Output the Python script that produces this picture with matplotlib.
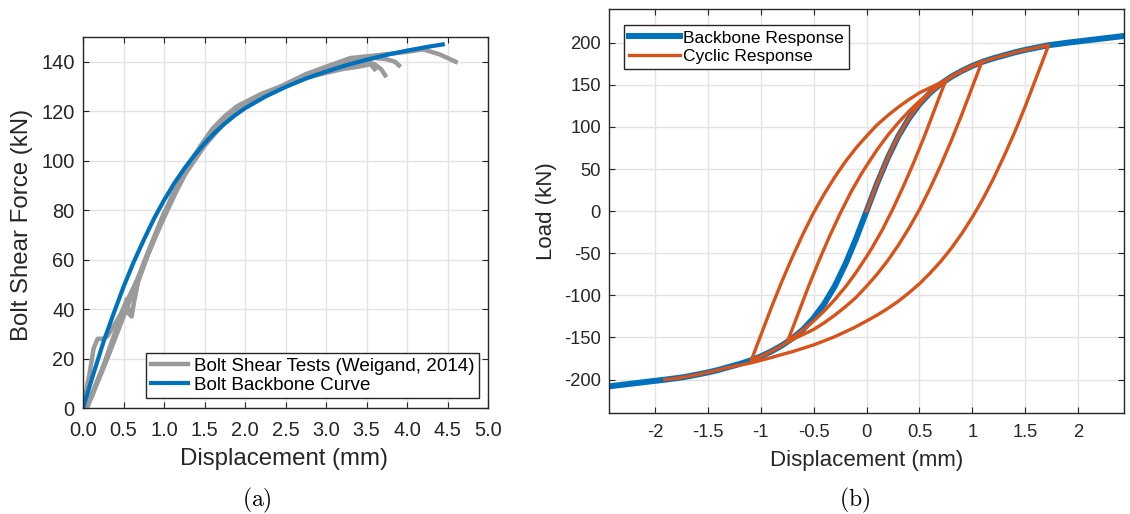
import numpy as np
import matplotlib
matplotlib.use("Agg")
import matplotlib.pyplot as plt

plt.rcParams['font.family'] = ['Liberation Sans', 'DejaVu Sans']
plt.rcParams['axes.unicode_minus'] = False
plt.rcParams['mathtext.fontset'] = 'cm'

BLUE = '#0072BD'
ORANGE = '#D95319'
GRAY = '#9a9a9a'
AXCOL = '#262626'

# ---- panel (a): bolt shear tests and backbone curve ----
test_a_x = [0, 0.05, 0.3, 0.6, 0.8, 1.0, 1.25, 1.5, 1.75, 2.0, 2.25, 2.5, 2.75, 3.0, 3.3, 3.6, 4.0, 4.2, 4.4, 4.6]
test_a_y = [0, 0, 21, 46, 63, 79, 94, 106, 115.5, 122.5, 127, 131, 135, 138, 141.5, 142.5, 144, 145, 143, 140]

test_b_x = [0, 0.08, 0.13, 0.18, 0.24, 0.3, 0.45, 0.7, 0.85, 1.0, 1.15, 1.3, 1.45, 1.6, 1.75, 1.9, 2.2, 2.6, 3.0, 3.3, 3.6, 3.75, 3.85, 3.9]
test_b_y = [0, 14, 24, 28, 28, 29, 37, 54, 66, 77, 87.5, 97, 105, 112, 117, 121, 126.5, 132, 137, 140.5, 141.5, 141, 140, 138.5]

test_c_x = [0, 0.1, 0.25, 0.4, 0.5, 0.54, 0.57, 0.6, 0.63, 0.68, 0.8, 1.0, 1.15, 1.3, 1.45, 1.6, 1.75, 1.9, 2.2, 2.6, 3.0, 3.3, 3.5, 3.6, 3.68, 3.73]
test_c_y = [0, 5, 17, 31, 40, 44, 38, 37, 43, 51, 62, 78, 88.5, 98, 106, 113, 118, 122, 127, 132, 136, 138, 140, 139, 137, 134.5]

test_d_x = [0, 0.1, 0.3, 0.5, 0.8, 1.1, 1.25, 1.4, 1.55, 1.7, 1.85, 2.0, 2.4, 2.8, 3.2, 3.4, 3.55, 3.6]
test_d_y = [0, 4, 20, 37, 62, 86, 95, 103, 110, 116, 120, 123, 129, 134, 137, 138, 139, 137]

bolt_backbone_x = [0, 0.125, 0.25, 0.375, 0.5, 0.625, 0.75, 0.875, 1.0, 1.125, 1.25, 1.375, 1.5, 1.625,
                   1.75, 1.875, 2.0, 2.25, 2.5, 2.75, 3.0, 3.25, 3.5, 3.75, 4.0, 4.25, 4.44]
bolt_backbone_y = [0, 13.5, 26.5, 38, 49, 59, 68, 76.5, 84, 90.8, 96.8, 102.2, 107, 111.3,
                   115, 118.3, 121.2, 125.9, 129.8, 133.2, 136, 138.6, 140.8, 142.8, 144.5, 146, 147]

# ---- panel (b): backbone and cyclic response ----
backbone_x = [-2.5, -2.3, -2.1, -1.9, -1.72, -1.6, -1.5, -1.4, -1.3, -1.2, -1.1, -1.0, -0.9, -0.8, -0.7,
              -0.6, -0.5, -0.4, -0.3, -0.2, -0.1, 0, 0.1, 0.2, 0.3, 0.4, 0.5, 0.6, 0.7, 0.8, 0.9,
              1.0, 1.1, 1.2, 1.3, 1.4, 1.5, 1.6, 1.72, 1.9, 2.1, 2.3, 2.5]
backbone_y = [-209, -206, -203, -200, -197, -194, -191.5, -188.5, -185, -181.5, -177.5, -172.5, -166.5, -159.5, -151,
              -140.5, -127, -110, -89, -63, -33, 0, 33, 63, 89, 110, 127, 140.5, 151, 159.5, 166.5,
              172.5, 177.5, 181.5, 185, 188.5, 191.5, 194, 197, 200, 203, 206, 209]

# virgin loading 0 -> 0.75
seg_a_x = [0, 0.05, 0.1, 0.15, 0.2, 0.25, 0.3, 0.35, 0.4, 0.45, 0.5, 0.55, 0.6, 0.65, 0.7, 0.75]
seg_a_y = [0, 16.5, 33, 48.5, 63, 76.5, 89, 100, 110, 119, 127, 134, 140.5, 146, 151, 155.5]
# unload 0.75 -> -0.75
seg_b_x = [0.75, 0.7, 0.65, 0.6, 0.55, 0.5, 0.45, 0.4, 0.35, 0.3, 0.25, 0.2, 0.15, 0.1, 0.05, 0.0,
           -0.1, -0.2, -0.3, -0.4, -0.5, -0.6, -0.7, -0.75]
seg_b_y = [155.5, 139.5, 123, 106.5, 90, 74.5, 59, 44.5, 30, 16.5, 3, -9.5, -22, -33, -44, -54,
           -73, -90, -105, -118.5, -130.5, -141, -150.5, -155.5]
# reload -0.75 -> 0.75
seg_c_x = [-0.75, -0.7, -0.65, -0.6, -0.55, -0.5, -0.45, -0.4, -0.35, -0.3, -0.25, -0.2, -0.15, -0.1, -0.05, 0.0,
           0.1, 0.2, 0.3, 0.4, 0.5, 0.6, 0.7, 0.75]
seg_c_y = [-155.5, -139.5, -123, -106.5, -90, -74.5, -59, -44.5, -30, -16.5, -3, 9.5, 22, 33, 44, 54,
           73, 90, 105, 118.5, 130.5, 141, 150.5, 155.5]
# backbone 0.75 -> 1.09
seg_d_x = [0.75, 0.8, 0.85, 0.9, 0.95, 1.0, 1.05, 1.09]
seg_d_y = [155.5, 159.5, 163, 166.5, 169.5, 172.5, 175, 177.5]
# unload 1.09 -> -0.75
seg_e_x = [1.09, 1.05, 1.0, 0.95, 0.9, 0.85, 0.8, 0.75, 0.7, 0.65, 0.6, 0.5, 0.4, 0.3, 0.2, 0.1, 0.0,
           -0.1, -0.2, -0.3, -0.4, -0.5, -0.6, -0.7, -0.75]
seg_e_y = [177.5, 164.3, 147.8, 131.3, 114.7, 99.1, 83.5, 68.9, 54.3, 40.7, 27.1, 1.9, -20.3, -40.5, -58.7, -74.9, -89.1,
           -102.5, -113.5, -123.5, -132.5, -140.5, -146.5, -152.5, -155.5]
# backbone -0.75 -> -1.09
seg_f_x = [-0.75, -0.8, -0.85, -0.9, -0.95, -1.0, -1.05, -1.09]
seg_f_y = [-155.5, -159.5, -163, -166.5, -169.5, -172.5, -175, -177.5]
# reload -1.09 -> 0.75
seg_g_x = [-1.09, -1.05, -1.0, -0.95, -0.9, -0.85, -0.8, -0.75, -0.7, -0.65, -0.6, -0.5, -0.4, -0.3, -0.2, -0.1, 0.0,
           0.1, 0.2, 0.3, 0.4, 0.5, 0.6, 0.7, 0.75]
seg_g_y = [-177.5, -164.3, -147.8, -131.3, -114.7, -99.1, -83.5, -68.9, -54.3, -40.7, -27.1, -1.9, 20.3, 40.5, 58.7, 74.9, 89.1,
           102.5, 113.5, 123.5, 132.5, 140.5, 146.5, 152.5, 155.5]
# backbone 0.75 -> 1.72
seg_h_x = [0.75, 0.8, 0.85, 0.9, 0.95, 1.0, 1.05, 1.1, 1.2, 1.3, 1.4, 1.5, 1.6, 1.72]
seg_h_y = [155.5, 159.5, 163, 166.5, 169.5, 172.5, 175, 177.5, 181.5, 185, 188.5, 191.5, 194, 197]
# unload 1.72 -> backbone end
seg_i_x = [1.72, 1.68, 1.64, 1.6, 1.55, 1.5, 1.45, 1.4, 1.3, 1.2, 1.1, 1.0, 0.9, 0.8, 0.7, 0.6, 0.5,
           0.4, 0.3, 0.2, 0.1, 0.0, -0.1, -0.2, -0.3, -0.4, -0.5, -0.6, -0.7, -0.8, -0.9, -1.0,
           -1.1, -1.2, -1.3, -1.4, -1.5, -1.6, -1.72, -1.8, -1.906]
seg_i_y = [197, 183.8, 170.6, 157.4, 141, 124.8, 109.2, 94, 65.6, 39, 14.6, -7, -26.6, -44.2, -59.8, -73.6, -86.2,
           -97, -107, -115.6, -123.4, -130.4, -137.2, -143.2, -149, -154, -158.8, -162.8, -166.8, -170.2, -173.8, -177.2,
           -180.4, -182.8, -185.5, -188.5, -191.5, -194, -197, -198.5, -200]

cyclic_x = np.concatenate([seg_a_x, seg_b_x, seg_c_x, seg_d_x, seg_e_x, seg_f_x, seg_g_x, seg_h_x, seg_i_x])
cyclic_y = np.concatenate([seg_a_y, seg_b_y, seg_c_y, seg_d_y, seg_e_y, seg_f_y, seg_g_y, seg_h_y, seg_i_y])


def style_axes(ax, tick_size, xpad):
    ax.grid(True, color='#e3e3e3', linewidth=1.0)
    ax.set_axisbelow(True)
    for sp in ax.spines.values():
        sp.set_color(AXCOL)
        sp.set_linewidth(1.0)
    ax.tick_params(direction='in', top=True, right=True, length=4, width=0.8,
                   colors=AXCOL, labelsize=tick_size, pad=6)
    ax.tick_params(axis='x', pad=xpad)


fig = plt.figure(figsize=(11.3, 5.14), dpi=100)

# panel (a)
ax1 = fig.add_axes([0.0735, 0.2062, 0.3584, 0.7218])
for tx, ty in [(test_a_x, test_a_y), (test_b_x, test_b_y), (test_c_x, test_c_y)]:
    ax1.plot(tx, ty, color=GRAY, linewidth=3.2, solid_joinstyle='round')
ax1.plot(test_d_x, test_d_y, color=GRAY, linewidth=3.2, solid_joinstyle='round',
         label='Bolt Shear Tests (Weigand, 2014)')
ax1.plot(bolt_backbone_x, bolt_backbone_y, color=BLUE, linewidth=3.0, solid_joinstyle='round',
         label='Bolt Backbone Curve')
ax1.set_xlim(0, 5)
ax1.set_ylim(0, 150)
ax1.set_xticks(np.arange(0, 5.01, 0.5))
ax1.set_xticklabels(['%.1f' % v for v in np.arange(0, 5.01, 0.5)])
ax1.set_yticks(np.arange(0, 141, 20))
style_axes(ax1, 14.4, 9.5)
ax1.set_xlabel('Displacement (mm)', fontsize=17.3, color=AXCOL)
ax1.set_ylabel('Bolt Shear Force (kN)', fontsize=17.3, color=AXCOL)
ax1.xaxis.set_label_coords(0.496, -0.108)
ax1.yaxis.set_label_coords(-0.124, 0.493)
leg1 = ax1.legend(loc='lower right', bbox_to_anchor=(0.9785, 0.026), borderaxespad=0,
                  fontsize=13.6, fancybox=False, framealpha=1, edgecolor=AXCOL,
                  handlelength=2.0, handletextpad=0.3, labelspacing=0.1,
                  borderpad=0.25)
leg1.get_frame().set_linewidth(1.0)

# panel (b)
ax2 = fig.add_axes([0.5392, 0.1959, 0.4553, 0.7866])
ax2.plot(backbone_x, backbone_y, color=BLUE, linewidth=4.3, label='Backbone Response')
ax2.plot(cyclic_x, cyclic_y, color=ORANGE, linewidth=2.4, solid_joinstyle='round',
         label='Cyclic Response')
ax2.set_xlim(-2.43, 2.43)
ax2.set_ylim(-240, 240)
ax2.set_xticks([-2, -1.5, -1, -0.5, 0, 0.5, 1, 1.5, 2])
ax2.set_xticklabels(['-2', '-1.5', '-1', '-0.5', '0', '0.5', '1', '1.5', '2'])
ax2.set_yticks(np.arange(-200, 201, 50))
style_axes(ax2, 13.2, 8)
ax2.set_xlabel('Displacement (mm)', fontsize=16, color=AXCOL)
ax2.set_ylabel('Load (kN)', fontsize=16, color=AXCOL)
ax2.xaxis.set_label_coords(0.5, -0.091)
ax2.yaxis.set_label_coords(-0.102, 0.5)
leg2 = ax2.legend(loc='upper left', bbox_to_anchor=(0.0286, 0.96), borderaxespad=0,
                  fontsize=12.5, fancybox=False, framealpha=1, edgecolor=AXCOL,
                  handlelength=2.9, handletextpad=0.2, labelspacing=0.2,
                  borderpad=0.3)
leg2.get_frame().set_linewidth(1.0)

fig.text(256.7 / 1130, 1 - 500 / 514, r'$\mathrm{(a)}$', fontsize=17, ha='center', va='center')
fig.text(855 / 1130, 1 - 500 / 514, r'$\mathrm{(b)}$', fontsize=17, ha='center', va='center')

fig.savefig('out.png', dpi=100)
